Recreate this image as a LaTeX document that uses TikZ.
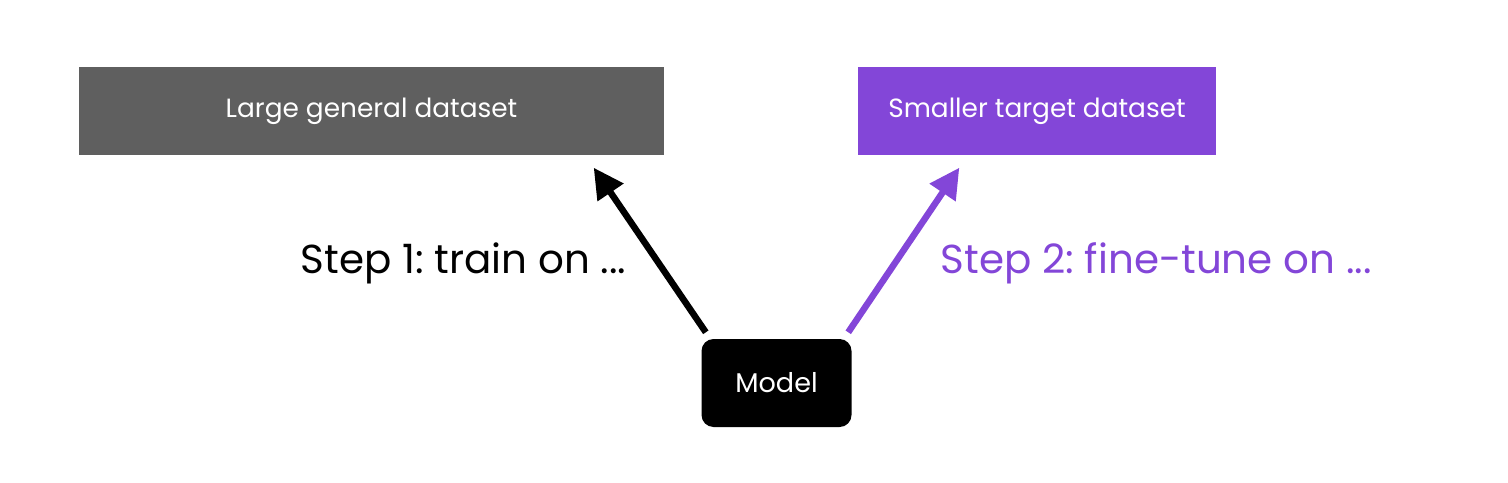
\documentclass[tikz,border=0pt]{standalone}
\usepackage{fontspec}
\setmainfont{Poppins}
\usepackage{tikz}
\usetikzlibrary{calc,arrows.meta}
\frenchspacing

\definecolor{datagray}{HTML}{5F5F5F}
\definecolor{tunepurple}{HTML}{8346D8}

\begin{document}
\begin{tikzpicture}[
    dataset/.style={rectangle, minimum height=0.88cm, text centered, text=white, font=\fontsize{7.5}{9}\selectfont},
    model/.style={rectangle, rounded corners=0.12cm, minimum width=1.5cm, minimum height=0.88cm, text centered, fill=black, text=white, font=\fontsize{7.7}{9}\selectfont},
    arrow/.style={line width=1.85pt,-{Triangle[length=0.3cm,width=0.3cm]}},
    steplabel/.style={inner sep=0pt, font=\fontsize{11.5}{13}\selectfont}
]
\useasboundingbox (0,0) rectangle (15.08,4.82);

% DATASETS
\node[dataset, fill=datagray, minimum width=5.85cm] (large) at (3.715,3.71) {Large general dataset};
\node[dataset, fill=tunepurple, minimum width=3.58cm] (smaller) at (10.37,3.71) {Smaller target dataset};

% Model
\node[model] (model) at (7.765,0.99) {Model};

% Arrows from the model to each dataset
\draw[arrow, black] ($(model.north west) + (0.05,0.06)$) -- ($(large.south east) + (-0.71,-0.12)$);
\draw[arrow, tunepurple] ($(model.north east) + (-0.04,0.06)$) -- ($(smaller.south west) + (1.02,-0.12)$);

% Labels for the two steps
\node[steplabel, anchor=base east] (step1) at (6.27,2.09) {Step 1: train on ...};
\node[steplabel, anchor=base west, text=tunepurple] (step2) at (9.40,2.09) {Step 2: fine-tune on ...};

\end{tikzpicture}
\end{document}
